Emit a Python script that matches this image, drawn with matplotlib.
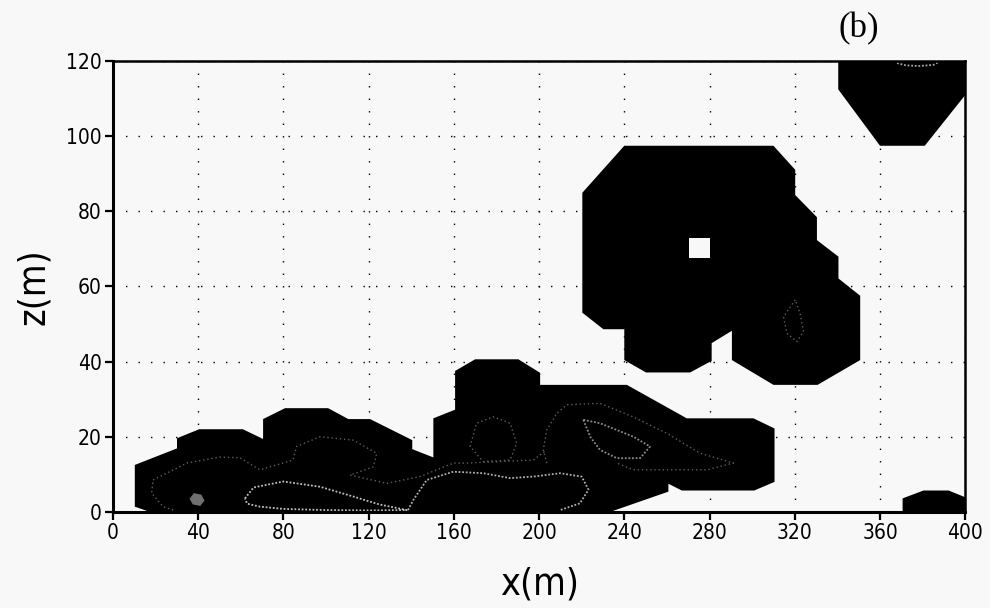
import numpy as np
import matplotlib
matplotlib.use("Agg")
import matplotlib.pyplot as plt

# shaded regions (outline vertices in metres)
low_x = [17.4, 10.3, 10.3, 30.1, 30.1, 40.5, 61, 70.5, 70.5, 80.8, 101, 110.5, 120.7,
         140.5, 140.5, 150.4, 150.4, 160.6, 160.6, 170, 190.3, 200.5, 200.5, 241.2,
         269.3, 300.6, 310.5, 310.5, 301, 267, 260.7, 260.7, 233.3]
low_z = [0, 1.4, 12.5, 16.9, 19.6, 22, 22, 19.4, 24.7, 27.6, 27.6, 24.7, 24.7,
         19.1, 16.7, 14.5, 24.9, 27.2, 37.5, 40.6, 40.6, 37, 33.8, 33.8,
         24.9, 24.9, 22.2, 8, 5.7, 5.7, 7.5, 5.4, 0]

up_x = [240, 310, 320.2, 320.2, 330.4, 330.4, 340.5, 340.5, 350.7, 350.7, 330.7, 310,
        290.5, 290.5, 281, 281, 270.9, 250.2, 240, 240, 230.2, 220.3, 220.3]
up_z = [97.4, 97.4, 91, 84.3, 78.4, 72.3, 67.9, 62.1, 57.5, 40.4, 33.8, 33.8,
        40.4, 48.2, 44.9, 40.2, 37.1, 37.1, 40.4, 48.6, 48.6, 53, 84.9]

hole_x = [270.4, 280.3, 280.3, 270.4]
hole_z = [67.5, 67.5, 72.8, 72.8]

corner_x = [340.4, 340.4, 360, 381, 400, 400]
corner_z = [120, 112.4, 97.4, 97.4, 110.9, 120]

br_x = [370.6, 370.6, 380.4, 392.2, 400, 400]
br_z = [0, 3.6, 5.7, 5.7, 3.9, 0]

# faint contour lines inside the shading
light1_x = [62, 66, 80, 97.2, 112.8, 125, 137.9, 120, 100, 80, 69, 63, 62]
light1_z = [3.6, 6.5, 8.1, 6.7, 4.1, 2, 0.5, 0.4, 0.5, 0.8, 1.4, 2.2, 3.6]
light2_x = [138.5, 141, 147.3, 159.8, 173.8, 186.4, 197.3, 209.9, 220, 223.2, 219.2, 209.9]
light2_z = [0.5, 3.2, 8.5, 10.7, 10.3, 9, 9.4, 10.3, 9.4, 5.9, 2.3, 0.5]
loopa_x = [220.8, 228.6, 244.3, 252.1, 247.4, 236.5, 228.6, 224, 220.8]
loopa_z = [24.5, 23.6, 20, 17.4, 14.3, 14.3, 16.5, 20, 24.5]
outer_x = [28.3, 23.6, 18.2, 18.9, 34.7, 50.2, 59.6, 69, 84.5, 86.2, 97.2, 112.8, 123.8,
           122.2, 111.3, 128.5, 144.1, 159.8, 166, 181.7, 197.3, 203.6]
outer_z = [0.5, 1.4, 5, 8.5, 13, 14.6, 14.4, 11.2, 13.8, 17.4, 20, 19.1, 15.6,
           12, 9.8, 7.6, 9.4, 13, 13, 13.4, 13.8, 16.5]
outer2_x = [203.6, 202, 203.6, 208.3, 213, 228.6, 244.1, 260, 275.6, 291.2, 278.7, 244.3, 236.5]
outer2_z = [13, 16.5, 21.8, 26.2, 28.5, 28.9, 25.3, 20.9, 15.6, 13, 11.2, 11.2, 13]
loopb_x = [167.6, 170.7, 178.5, 186.4, 189.5, 186.4, 173.8, 167.6]
loopb_z = [17.4, 23.6, 25.3, 23.6, 18.3, 13.8, 13.4, 17.4]
blob_x = [36, 38, 41.5, 43, 41, 37.5, 36]
blob_z = [3.5, 5, 4.6, 3, 1.6, 2, 3.5]
loopr_x = [320.2, 314.7, 316.3, 321, 324.1, 322.5, 320.2]
loopr_z = [56.4, 51.9, 47.5, 45.3, 48, 52.8, 56.4]
top_x = [368, 372, 378, 385, 387]
top_z = [119.4, 118.8, 118.6, 118.9, 119.5]

xticks = np.arange(0, 401, 40)
zticks = np.arange(0, 121, 20)

bg = '#f8f8f8'

fig = plt.figure(figsize=(9.9, 6.08), dpi=100, facecolor=bg)
ax = fig.add_axes([0.114, 0.158, 0.861, 0.742], facecolor=bg)

ax.set_xlim(0, 400)
ax.set_ylim(0, 120)
ax.set_xticks(xticks)
ax.set_yticks(zticks)
ax.grid(True, color='black', linestyle=(0, (1, 8)), linewidth=1.0, zorder=0)
ax.set_axisbelow(True)

for xs, zs in [(low_x, low_z), (up_x, up_z), (corner_x, corner_z), (br_x, br_z)]:
    ax.fill(xs, zs, color='black', lw=0, zorder=2)
ax.fill(hole_x, hole_z, color=bg, lw=0, zorder=3)

for xs, zs, c in [(light1_x, light1_z, '#c0c0c0'), (light2_x, light2_z, '#b0b0b0'),
                  (loopa_x, loopa_z, '#8c8c8c'), (top_x, top_z, '#a8a8a8')]:
    ax.plot(xs, zs, color=c, lw=1.3, ls=(0, (1, 1)), zorder=4)
for xs, zs in [(outer_x, outer_z), (outer2_x, outer2_z), (loopb_x, loopb_z), (loopr_x, loopr_z)]:
    ax.plot(xs, zs, color='#5e5e5e', lw=1.0, ls=(0, (1, 2)), zorder=4)
ax.fill(blob_x, blob_z, color='#707070', lw=0, zorder=4)

for side in ['left', 'bottom']:
    ax.spines[side].set_linewidth(2.2)
for side in ['top', 'right']:
    ax.spines[side].set_linewidth(1.8)
for s in ax.spines.values():
    s.set_zorder(5)

ax.tick_params(direction='out', length=6, width=1.6, labelsize=15, pad=2)
for lab in ax.get_xticklabels() + ax.get_yticklabels():
    lab.set_family('DejaVu Sans')
    lab.set_stretch('condensed')

ax.set_xlabel('x(m)', fontsize=27, stretch='condensed', labelpad=17)
ax.set_ylabel('z(m)', fontsize=27, stretch='condensed', labelpad=10)

fig.text(0.867, 0.952, '(b)', fontsize=25, family=['Liberation Serif', 'DejaVu Serif'],
         ha='center', va='center')

fig.savefig('out.png', dpi=100, facecolor=bg)
